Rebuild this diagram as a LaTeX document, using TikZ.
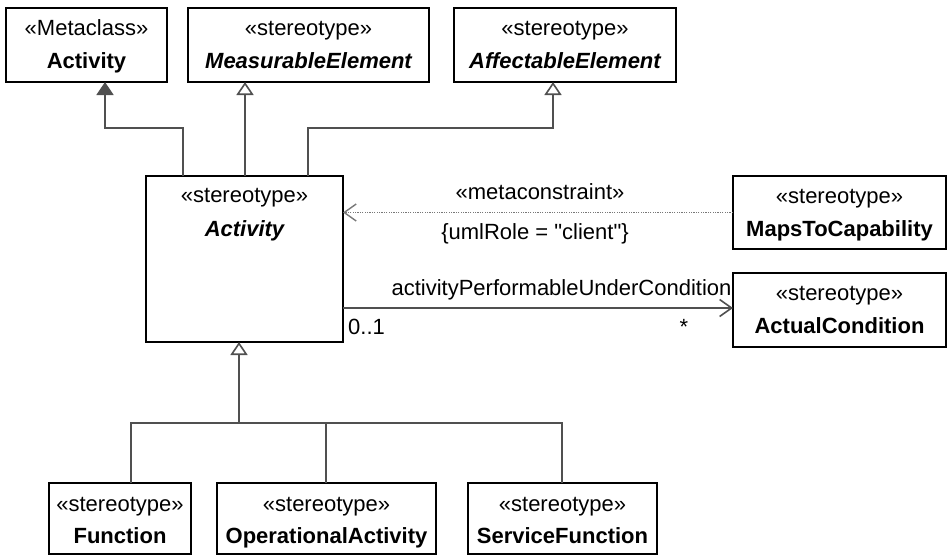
\documentclass[tikz,border=0pt]{standalone}
\usepackage{fontspec}
\setmainfont{Liberation Sans}
\usetikzlibrary{arrows.meta}
\definecolor{conn}{RGB}{80,80,80}
\definecolor{dotc}{RGB}{120,120,120}
\begin{document}
\begin{tikzpicture}[x=1pt,y=1pt,
  box/.style={draw=black,line width=1.8pt,minimum height=74,inner sep=0,outer sep=0},
  txt/.style={font=\fontsize{22}{26}\selectfont,inner sep=0,anchor=base},
  conline/.style={draw=conn,line width=1.6pt},
  gen/.style={conline,-{Triangle[open,length=13pt,width=17pt]}},
  ext/.style={conline,-{Triangle[length=13pt,width=17pt,fill=conn]}},
  dep/.style={draw=dotc,line width=1.4pt,dash pattern=on 1.2pt off 1.2pt,-{Straight Barb[length=12pt,width=17pt,line width=1.4pt]}},
  assoc/.style={conline,-{Straight Barb[length=12pt,width=17pt]}}]
\useasboundingbox (0,0) rectangle (947,-554);
% boxes
\node[box,minimum width=161] (meta) at (86.5,-45) {};
\node[box,minimum width=241] (meas) at (308.5,-45) {};
\node[box,minimum width=222] (aff) at (565,-45) {};
\node[box,minimum width=197,minimum height=166] (act) at (244.5,-259) {};
\node[box,minimum width=213,minimum height=73] (maps) at (839.5,-212.5) {};
\node[box,minimum width=213] (actual) at (839.5,-310) {};
\node[box,minimum width=142,minimum height=71] (func) at (120,-518.5) {};
\node[box,minimum width=219,minimum height=71] (opact) at (326.5,-518.5) {};
\node[box,minimum width=189,minimum height=71] (servf) at (562.5,-518.5) {};
% texts
\node[txt] (meta-s) at (86.5,-35) {«Metaclass»};
\node[txt] (meta-n) at (86.5,-68) {\bfseries Activity};
\node[txt] (meas-s) at (308.5,-35) {«stereotype»};
\node[txt] (meas-n) at (308.5,-68) {\bfseries\itshape MeasurableElement};
\node[txt] (aff-s) at (565,-35) {«stereotype»};
\node[txt] (aff-n) at (565,-68) {\bfseries\itshape AffectableElement};
\node[txt] (act-s) at (244.5,-202) {«stereotype»};
\node[txt] (act-n) at (244.5,-236) {\bfseries\itshape Activity};
\node[txt] (maps-s) at (839.5,-203) {«stereotype»};
\node[txt] (maps-n) at (839.5,-236) {\bfseries MapsToCapability};
\node[txt] (actual-s) at (839.5,-300) {«stereotype»};
\node[txt] (actual-n) at (839.5,-333) {\bfseries ActualCondition};
\node[txt] (func-s) at (120,-511) {«stereotype»};
\node[txt] (func-n) at (120,-543) {\bfseries Function};
\node[txt] (opact-s) at (326.5,-511) {«stereotype»};
\node[txt] (opact-n) at (326.5,-543) {\bfseries OperationalActivity};
\node[txt] (servf-s) at (562.5,-511) {«stereotype»};
\node[txt] (servf-n) at (562.5,-543) {\bfseries ServiceFunction};
% upward generalizations
\draw[ext] ([xshift=-61.5pt]act.north) -- ++(0,48) -| ([xshift=18.5pt]meta.south);
\draw[gen] ([xshift=0.5pt]act.north) -- ([xshift=0.5pt]act.north |- meas.south);
\draw[gen] ([xshift=63.5pt]act.north) -- ++(0,48) -| ([xshift=-12pt]aff.south);
% metaconstraint
\draw[dep] (maps.west) -- (act.east |- maps.west);
\node[txt] (mc) at (540,-199) {«metaconstraint»};
\node[txt] (role) at (535,-239) {\{umlRole = \textquotedbl client\textquotedbl\}};
% association
\coordinate (assocEnd) at ([yshift=2pt]actual.west);
\draw[assoc] (act.east |- assocEnd) -- (assocEnd);
\node[txt] (an) at (561.5,-295) {activityPerformableUnderCondition};
\node[txt,anchor=base west] (m1) at (348,-334) {0..1};
\node[txt] (m2) at (684,-334) {*};
% lower generalization tree
\coordinate (bus) at (239,-423);
\draw[conline] ([xshift=11pt]func.north) |- (bus);
\draw[conline] ([xshift=-0.5pt]servf.north) |- (bus);
\draw[conline] ([xshift=-0.5pt]opact.north) -- ([xshift=-0.5pt]opact.north |- bus);
\draw[gen] (bus) -- (bus |- act.south);
\end{tikzpicture}
\end{document}
